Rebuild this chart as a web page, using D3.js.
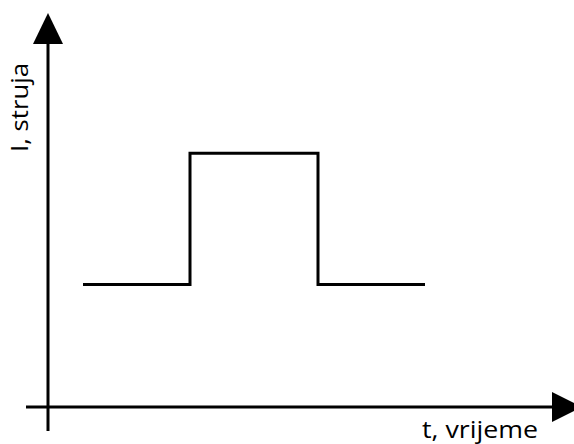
<!DOCTYPE html>
<html><head><meta charset="utf-8">
<script src="https://d3js.org/d3.v7.min.js"></script>
<style>body{margin:0;background:#fff}svg{display:block}</style>
</head><body><div id="c"></div>
<script>
const times = [7, 28.4, 54, 75.4];
const current = [35, 72.5, 35, 35];
const xLabel = "t, vrijeme";
const yLabel = "I, struja";

const W = 574, H = 444;
const svg = d3.select("#c").append("svg").attr("width", W).attr("height", H);
const x = d3.scaleLinear().domain([0, 100]).range([48, 548]);
const y = d3.scaleLinear().domain([0, 100]).range([407, 57]);

const sw = 3;
// y axis
svg.append("line").attr("x1", x(0)).attr("x2", x(0)).attr("y1", 431).attr("y2", 42)
  .attr("stroke", "#000").attr("stroke-width", sw);
svg.append("path").attr("d", `M${x(0)},13 L${x(0)-15},44 L${x(0)+15},44 Z`).attr("fill", "#000");
// x axis
svg.append("line").attr("x1", 26).attr("x2", 553).attr("y1", y(0)).attr("y2", y(0))
  .attr("stroke", "#000").attr("stroke-width", sw);
svg.append("path").attr("d", `M582,${y(0)} L552,${y(0)-15} L552,${y(0)+15} Z`).attr("fill", "#000");

// step signal
const line = d3.line().x((d,i)=>x(times[i])).y((d,i)=>y(current[i])).curve(d3.curveStepAfter);
svg.append("path").datum(times).attr("d", line).attr("fill", "none")
  .attr("stroke", "#000").attr("stroke-width", sw);

svg.append("text").attr("x", 422).attr("y", 438).attr("font-family", "Open Sans")
  .attr("font-size", 23).attr("fill", "#000")
  .attr("textLength", 116).attr("lengthAdjust", "spacingAndGlyphs").text(xLabel);
svg.append("text").attr("transform", "translate(28,152) rotate(-90)").attr("font-family", "Open Sans")
  .attr("font-size", 23).attr("fill", "#000")
  .attr("textLength", 89).attr("lengthAdjust", "spacingAndGlyphs").text(yLabel);
</script></body></html>
